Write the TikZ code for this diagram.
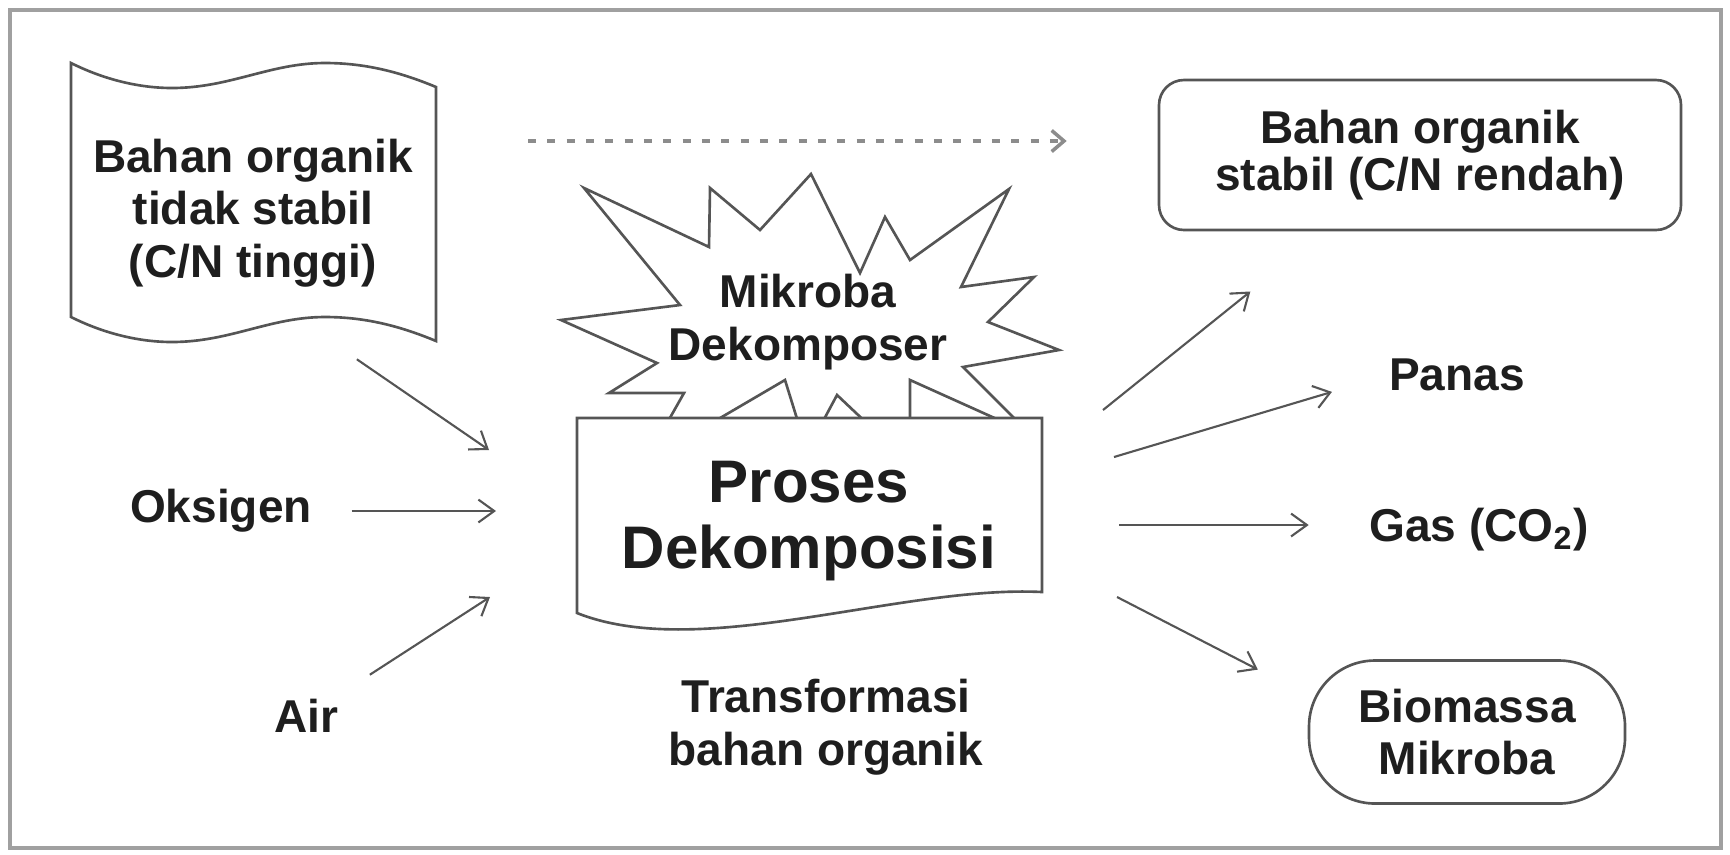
\documentclass[tikz,border=0pt]{standalone}
\usepackage{fontspec}
\setmainfont{Liberation Sans}
\usepackage{tikz}
\usetikzlibrary{arrows.meta,calc}
\definecolor{line-grey}{RGB}{85,85,85}
\definecolor{frame-grey}{RGB}{160,160,160}
\definecolor{ink}{RGB}{30,30,30}

\begin{document}
\begin{tikzpicture}[
  font=\bfseries\fontsize{13.1}{15}\selectfont, text=ink,
  shape line/.style={draw=line-grey, line width=0.75pt, fill=white},
  label text/.style={align=center, inner sep=0pt},
  arr/.style={-{Straight Barb[length=4.5pt,width=6.5pt]},
    draw=line-grey, line width=0.6pt},
  dash arr/.style={-{Straight Barb[length=3.5pt,width=6pt]},
    draw=black!45, line width=1pt, dash pattern=on 2.3pt off 3.2pt}]
  \useasboundingbox (0,0) rectangle (17.30,-8.54);
  % Cadre
  \draw[frame-grey, line width=0.9pt] (0.10,-0.10) rectangle (17.21,-8.48);

  % Bahan organik tidak stabil (bendera)
  \draw[shape line] (0.71,-0.63)
    .. controls (1.05,-0.80) and (1.40,-0.88) .. (1.72,-0.88)
    .. controls (2.30,-0.88) and (2.70,-0.63) .. (3.25,-0.63)
    .. controls (3.65,-0.63) and (4.00,-0.72) .. (4.36,-0.87)
    -- (4.36,-3.41)
    .. controls (4.00,-3.26) and (3.65,-3.17) .. (3.25,-3.17)
    .. controls (2.70,-3.17) and (2.30,-3.42) .. (1.72,-3.42)
    .. controls (1.40,-3.42) and (1.05,-3.34) .. (0.71,-3.17) -- cycle;
  \node[label text] (doc) at (2.53,-2.13)
    {Bahan organik\\tidak stabil\\(C/N tinggi)};

  % Mikroba dekomposer (ledakan)
  \draw[shape line] (5.84,-1.88) -- (7.09,-2.47) -- (7.10,-1.88)
    -- (7.60,-2.30) -- (8.11,-1.74) -- (8.60,-2.73) -- (8.85,-2.17)
    -- (9.10,-2.60) -- (10.09,-1.89) -- (9.61,-2.87) -- (10.34,-2.77)
    -- (9.88,-3.22) -- (10.59,-3.50) -- (9.63,-3.67) -- (10.30,-4.34)
    -- (9.10,-3.80) -- (9.10,-4.64) -- (8.37,-3.95) -- (8.07,-4.51)
    -- (7.85,-3.80) -- (6.45,-4.62) -- (6.84,-3.93) -- (6.09,-3.93)
    -- (6.57,-3.63) -- (5.61,-3.20) -- (6.80,-3.05) -- cycle;
  \node[label text] (mik) at (8.08,-3.22) {Mikroba\\Dekomposer};

  % Proses dekomposisi (dokumen)
  \draw[shape line] (5.77,-4.18) -- (10.42,-4.18) -- (10.42,-5.92)
    .. controls (9.00,-5.85) and (7.00,-6.62) .. (5.77,-6.13) -- cycle;
  \node[label text, font=\bfseries\fontsize{17.1}{18.6}\selectfont]
    (proc) at (8.09,-5.21) {Proses\\Dekomposisi};
  \node[label text] (trans) at (8.26,-7.27)
    {Transformasi\\bahan organik};

  % Masukan
  \node[label text] (oks) at (2.21,-5.11) {Oksigen};
  \node[label text] (air) at (3.06,-7.16) {Air};

  % Keluaran
  \node[shape line, label text, rounded corners=0.25cm,
        minimum width=5.22cm, minimum height=1.50cm]
    (stab) at (14.20,-1.55) {\raisebox{-0.05cm}{Bahan organik}\\stabil (C/N rendah)};
  \node[label text] (panas) at (14.57,-3.75) {Panas};
  \node[label text] (gas) at (14.79,-5.30) {Gas (CO\textsubscript{2})};
  \node[shape line, label text, rounded corners=0.66cm,
        minimum width=3.16cm, minimum height=1.43cm]
    (bio) at (14.67,-7.32) {Biomassa\\Mikroba};

  % Panah masuk
  \coordinate (inD) at (4.89,-4.50);
  \coordinate (inO) at (4.96,-5.11);
  \coordinate (inA) at (4.90,-5.97);
  \draw[arr, shorten <=1.26cm] (doc.south) -- (inD);
  \draw[arr, shorten <=0.39cm] (oks) -- (inO);
  \draw[arr, shorten <=0.44cm] (air) -- (inA);

  % Panah keluar
  \coordinate (outS) at (11.03,-4.10);
  \coordinate (outP) at (11.14,-4.57);
  \coordinate (outG) at (11.19,-5.25);
  \coordinate (outB) at (11.17,-5.97);
  \draw[arr, shorten >=0.96cm] (outS) -- (stab);
  \draw[arr, shorten >=0.59cm] (outP) -- (panas.west);
  \draw[arr, shorten >=0.60cm] (outG) -- (outG -| gas.west);
  \draw[arr, shorten >=0.56cm] (outB) -- (bio.167);

  % Panah putus-putus
  \coordinate (dashS) at (5.28,-1.41);
  \draw[dash arr, shorten >=0.91cm] (dashS) -- (dashS -| stab.west);
\end{tikzpicture}
\end{document}
